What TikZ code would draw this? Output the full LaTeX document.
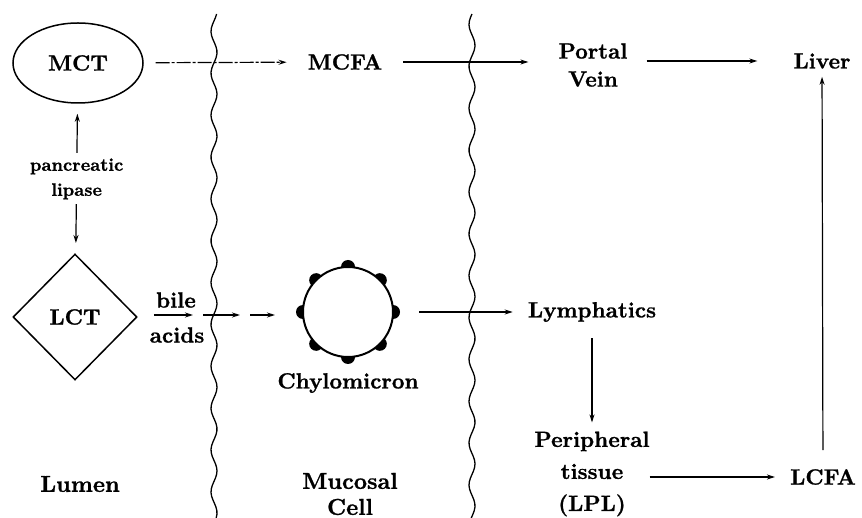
\documentclass[tikz,border=0pt]{standalone}
\usepackage{fontspec}
\setmainfont{lmroman10-regular.otf}[BoldFont=lmroman10-bold.otf, BoldFeatures={FakeBold=1}]
\usetikzlibrary{shapes.geometric,arrows.meta}
\begin{document}
\begin{tikzpicture}[x=1pt,y=-1pt,
  txt/.style={font=\fontsize{22}{28}\selectfont\bfseries, inner sep=0pt, align=center},
  big/.style={font=\fontsize{23}{26}\selectfont\bfseries},
  small/.style={font=\fontsize{18}{25}\selectfont\bfseries, align=center},
  arr/.style={line width=1.2pt, -{Stealth[length=8pt,width=5pt]}},
  dasharr/.style={arr, dash pattern=on 14pt off 2pt on 3pt off 2pt},
  outline/.style={draw, line width=1.5pt},
  wavy/.style={line width=1.3pt}]
\useasboundingbox (0,0) rectangle (862,518);

% membranes
\draw[wavy] plot[smooth, samples=140, domain=14:518] ({214+3*sin(8.6*\x)},\x);
\draw[wavy] plot[smooth, samples=140, domain=14:518] ({472+3*sin(8.6*\x+60)},\x);

% nodes
\node[txt, outline, ellipse, minimum width=130pt, minimum height=80pt] (MCT) at (78,63) {MCT};
\node[txt, outline, diamond, minimum width=124pt, minimum height=126pt] (LCT) at (75,317) {LCT};
\node[txt] (MCFA) at (345,62) {MCFA};
\node[txt] (Portal) at (593,65) {Portal\\Vein};
\node[txt] (Liver) at (822,61) {Liver};
\node[txt] (Lymph) at (592,312) {Lymphatics};
\node[txt, font=\fontsize{22}{32}\selectfont\bfseries] (Periph) at (592,474) {Peripheral\\tissue\\(LPL)};
\node[txt] (LCFA) at (823,477) {LCFA};
\node[txt, big] (Lumen) at (80,484) {Lumen};
\node[txt, big] (Mucosal) at (350,494) {Mucosal\\Cell};

% chylomicron
\foreach \a in {0,45,...,315}
  \fill (348,312) ++(\a:45) circle[radius=7pt];
\node[draw, circle, fill=white, line width=2pt, minimum size=90pt] (Chylo) at (348,312) {};
\node[txt] (ChyloLbl) at (348,383) {Chylomicron};

% bile acids
\node[txt] (bile) at (176,300) {bile};
\node[txt] (acids) at (177,335) {acids};
\coordinate (b1) at (193,315);
\coordinate (b2) at (203,315);
\coordinate (b3) at (240,315);
\coordinate (b4) at (250,315);

% connectors
\draw[dasharr, shorten <=12pt, shorten >=21pt] (MCT) -- (MCFA);
\draw[arr, shorten <=21pt, shorten >=30pt] (MCFA) -- (MCFA -| Portal.west);
\draw[arr, shorten <=19pt, shorten >=36pt] (Portal.east |- Liver) -- (Liver);
\draw[arr, shorten <=19pt, shorten >=8pt] (LCFA) -- (Liver);
\draw[arr, shorten <=0pt, shorten >=15pt] (Periph.east |- LCFA) -- (LCFA);
\draw[arr, shorten <=16pt, shorten >=9pt] (Lymph) -- (Periph);
\draw[arr, shorten <=25pt, shorten >=15pt] (Chylo) -- (Lymph);
\draw[line width=1.2pt, {Stealth[length=8pt,width=5pt]}-{Stealth[length=8pt,width=5pt]}, shorten <=10pt, shorten >=11pt]
  (MCT) -- node[small, fill=white, inner sep=5pt] (lipase) {pancreatic\\lipase} (LCT);
\draw[arr, shorten <=16pt] (LCT.east |- b1) -- (b1);
\draw[arr] (b2) -- (b3);
\draw[arr, shorten >=27pt] (b4) -- (b4 -| Chylo.west);
\end{tikzpicture}
\end{document}
